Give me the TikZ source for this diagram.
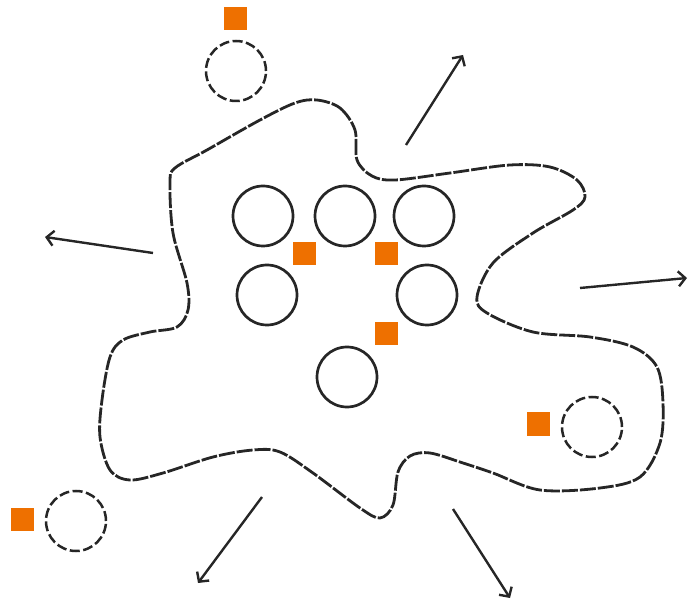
\documentclass[tikz,border=0pt]{standalone}
\usetikzlibrary{arrows.meta,positioning}
\definecolor{sqOrange}{RGB}{238,112,0}
\tikzset{
	cellNode/.style={
		circle,
		draw=black!85,
		line width=2.7pt,
		minimum size=60pt,
		inner sep=0pt
	},
	freeCell/.style={
		cellNode,
		line width=2.5pt,
		dash pattern=on 10pt off 3.5pt
	},
	molNode/.style={
		rectangle,
		fill=sqOrange,
		draw=none,
		minimum size=23pt,
		inner sep=0pt
	},
}
\begin{document}
\begin{tikzpicture}[x=1pt, y=-1pt
    ,   outArrow/.style={line width=2.4pt, draw=black!85, -{Straight Barb[length=7pt, width=15pt, line width=2.4pt]}}
    ,   blobEdge/.style={line width=2.8pt, draw=black!85, dash pattern=on 16pt off 2pt}]
\useasboundingbox (0,0) rectangle (689,604);

% membrane
\draw[blobEdge] plot[smooth cycle, tension=0.55] coordinates {
    (317,100) (340,108) (355,130) (357,160) (372,176) (395,180)
    (450,173) (510,165) (550,167) (577,180) (585,197) (573,210)
    (533,233) (493,263) (477,297) (487,313) (533,332) (590,337)
    (633,347) (657,367) (663,403) (660,443) (640,477) (600,488)
    (540,490) (493,473) (463,463) (430,453) (410,456) (398,472)
    (393,505) (380,518) (360,508) (313,473) (280,452) (253,450)
    (213,457) (163,473) (130,480) (110,470) (100,437) (102,400)
    (110,357) (123,340) (150,332) (177,327) (188,310) (187,283)
    (173,233) (170,183) (175,168) (207,150) (260,120) (295,103)};

% cells inside
\node[cellNode] (C1) at (263,216){};
\node[cellNode] (C2) at (345,216){};
\node[cellNode] (C3) at (424,216){};
\node[cellNode] (C4) at (267,295){};
\node[cellNode] (C5) at (427,295){};
\node[cellNode] (C6) at (347,377){};

\node[molNode] (M1) at (304,254){};
\node[molNode] (M2) at (386,254){};
\node[molNode] (M3) at (386,334){};

% cells outside
\node[freeCell] (F1) at (236,71){};
\node[molNode] (N1) at (235,19){};
\node[freeCell] (F2) at (592,427){};
\node[molNode] (N2) at (538,424){};
\node[freeCell] (F3) at (76,521){};
\node[molNode] (N3) at (22,519){};

% arrows
\coordinate (A1) at (406,145); \coordinate (T1) at (463,55);
\coordinate (A2) at (153,253); \coordinate (T2) at (45,237);
\coordinate (A3) at (580,288); \coordinate (T3) at (687,278);
\coordinate (A4) at (262,497); \coordinate (T4) at (198,583);
\coordinate (A5) at (453,509); \coordinate (T5) at (510,598);

\draw[outArrow](A1) -- (T1);
\draw[outArrow](A2) -- (T2);
\draw[outArrow](A3) -- (T3);
\draw[outArrow](A4) -- (T4);
\draw[outArrow](A5) -- (T5);

\end{tikzpicture}
\end{document}
